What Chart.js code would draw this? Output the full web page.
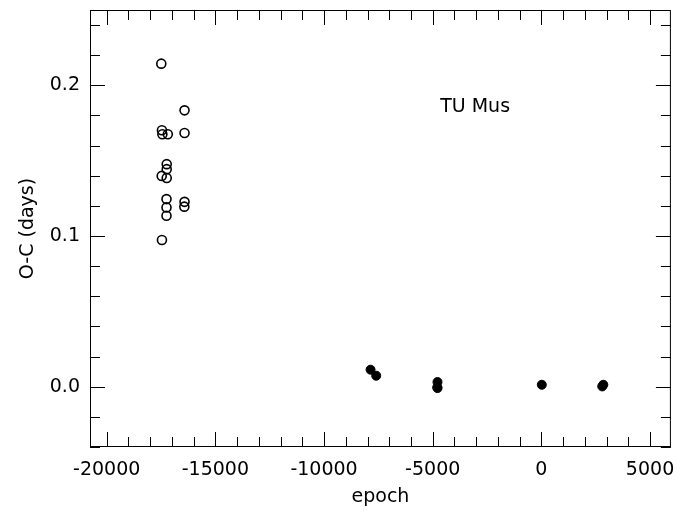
<!DOCTYPE html>
<html>
<head>
<meta charset="utf-8">
<script src="https://cdn.jsdelivr.net/npm/chart.js@4/dist/chart.umd.min.js"></script>
<style>
  html, body { margin: 0; padding: 0; background: #fff; }
  #wrap { width: 677px; height: 515px; }
</style>
</head>
<body>
<div id="wrap"><canvas id="oc"></canvas></div>
<script>
// old timings (open circles)
const oldEpoch = [-17490, -16420, -17460, -17440, -17190, -16420, -17240, -17240, -17470, -17240, -17250, -17250, -17250, -16420, -16430, -17460];
const oldOC    = [0.2144, 0.1834, 0.1702, 0.1675, 0.1675, 0.1684, 0.1477, 0.1444, 0.1399, 0.1385, 0.1245, 0.1190, 0.1135, 0.1227, 0.1195, 0.0974];

// recent timings (filled dots)
const newEpoch = [-7860, -7600, -4780, -4790, -4780, 20, 2850, 2800];
const newOC    = [0.0113, 0.0073, 0.0031, -0.0004, -0.0009, 0.0013, 0.0013, 0.0002];

const xTicks = [-20000, -15000, -10000, -5000, 0, 5000];
const yTicks = [0.0, 0.1, 0.2];
const starName = "TU Mus";

const toPoints = (xs, ys) => xs.map((x, i) => ({ x: x, y: ys[i] }));

const fontFam = "'DejaVu Sans', Verdana, sans-serif";

// frame + inward tick marks on all four sides
const frameTicks = {
  id: 'frameTicks',
  afterDraw(chart) {
    const ctx = chart.ctx;
    const a = chart.chartArea;
    const xs = chart.scales.x, ys = chart.scales.y;
    ctx.save();
    ctx.strokeStyle = '#000';
    ctx.lineWidth = 1;
    ctx.strokeRect(a.left + 0.5, a.top + 0.5, a.right - a.left - 1, a.bottom - a.top - 1);
    ctx.beginPath();
    for (let v = -20000; v <= 5000; v += 1000) {
      const p = Math.round(xs.getPixelForValue(v)) + 0.5;
      const len = v % 5000 === 0 ? 15 : 10;
      ctx.moveTo(p, a.bottom); ctx.lineTo(p, a.bottom - len);
      ctx.moveTo(p, a.top); ctx.lineTo(p, a.top + len);
    }
    for (let k = -2; k <= 12; k++) {
      const v = k * 0.02;
      const p = Math.round(ys.getPixelForValue(v)) + 0.5;
      const len = k % 5 === 0 ? 15 : 10;
      ctx.moveTo(a.left, p); ctx.lineTo(a.left + len, p);
      ctx.moveTo(a.right, p); ctx.lineTo(a.right - len, p);
    }
    ctx.stroke();
    ctx.fillStyle = '#000';
    ctx.font = '19px ' + fontFam;
    ctx.textAlign = 'center';
    ctx.textBaseline = 'middle';
    ctx.fillText(starName, xs.getPixelForValue(-3050), ys.getPixelForValue(0.1854));
    ctx.restore();
  }
};

new Chart(document.getElementById('oc'), {
  type: 'scatter',
  data: {
    datasets: [
      {
        data: toPoints(oldEpoch, oldOC),
        pointStyle: 'circle',
        pointRadius: 4.5,
        pointBorderWidth: 1.6,
        borderColor: '#000',
        backgroundColor: 'rgba(0,0,0,0)'
      },
      {
        data: toPoints(newEpoch, newOC),
        pointStyle: 'circle',
        pointRadius: 4.5,
        pointBorderWidth: 1,
        borderColor: '#000',
        backgroundColor: '#000'
      }
    ]
  },
  options: {
    responsive: true,
    maintainAspectRatio: false,
    animation: false,
    layout: { padding: { top: 10, right: 4, left: 0, bottom: 0 } },
    plugins: { legend: { display: false }, tooltip: { enabled: false } },
    scales: {
      x: {
        type: 'linear',
        min: -20770,
        max: 5960,
        afterBuildTicks: s => { s.ticks = xTicks.map(v => ({ value: v })); },
        afterFit: s => { s.height = 68; s.paddingLeft = 0; s.paddingRight = 0; },
        grid: { display: false, drawTicks: false },
        border: { display: false },
        ticks: { color: '#000', padding: 12, maxRotation: 0, callback: v => String(v), font: { size: 19, family: fontFam } },
        title: { display: true, text: 'epoch', color: '#000', padding: { top: 0, bottom: 7 }, font: { size: 19, family: fontFam } }
      },
      y: {
        type: 'linear',
        min: -0.04,
        max: 0.25,
        afterBuildTicks: s => { s.ticks = yTicks.map(v => ({ value: v })); },
        afterFit: s => { s.width = 90; s.paddingTop = 0; s.paddingBottom = 0; },
        grid: { display: false, drawTicks: false },
        border: { display: false },
        ticks: { color: '#000', padding: 10, callback: v => v.toFixed(1), font: { size: 19, family: fontFam } },
        title: { display: true, text: 'O-C (days)', color: '#000', padding: { top: 17, bottom: 0 }, font: { size: 19, family: fontFam } }
      }
    }
  },
  plugins: [frameTicks]
});
</script>
</body>
</html>
